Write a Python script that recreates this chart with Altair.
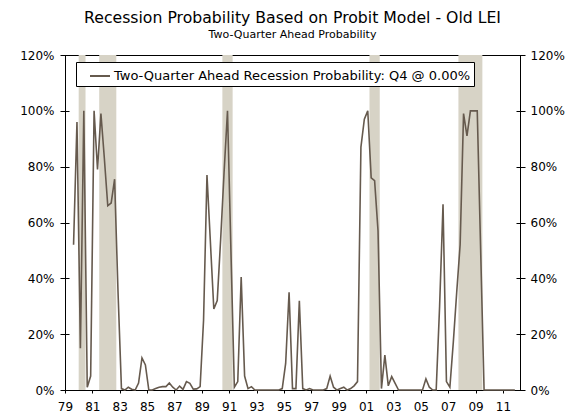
import altair as alt
import pandas as pd

# ---- data (quarterly, starting 1979 Q3) ----
start_year = 1979
start_quarter = 3
prob = [
    52, 96,                      # 1979 Q3-Q4
    15, 100, 1, 5,               # 1980
    100, 79, 99, 83,             # 1981
    66, 67, 75.5, 35,            # 1982
    0.5, 0, 1, 0.3,              # 1983
    0, 2.5, 11.5, 9,             # 1984
    0, 0, 0.5, 1,                # 1985
    1.2, 1.2, 2.5, 1,            # 1986
    0, 1.4, 0.2, 3,              # 1987
    2.4, 0.3, 0.4, 1.2,          # 1988
    25, 77, 53, 29,              # 1989
    32, 54, 78, 100,             # 1990
    50, 1, 3, 40.5,              # 1991
    5, 0.5, 1.2, 0,              # 1992
    0, 0, 0, 0,                  # 1993
    0, 0, 0, 0.5,                # 1994
    9.5, 35, 0.5, 0.5,           # 1995
    32, 0.5, 0, 0.5,             # 1996
    0, 0, 0, 0,                  # 1997
    0.5, 5, 1, 0,                # 1998
    0.5, 1, 0, 0.5,              # 1999
    1.5, 3, 87, 97,              # 2000
    100, 76, 75, 57,             # 2001
    0.5, 12.5, 1.5, 4.8,         # 2002
    2.4, 0, 0, 0,                # 2003
    0, 0, 0, 0,                  # 2004
    0, 4, 1, 0,                  # 2005
    0, 30, 66.5, 3,              # 2006
    1, 17, 35, 52,               # 2007
    99, 91, 100, 100,            # 2008
    100, 50, 0, 0,               # 2009
    0, 0, 0, 0,                  # 2010
    0, 0, 0, 0,                  # 2011
]
rec_start = [1980.0, 1981.5, 1990.5, 2001.25, 2007.75]
rec_end = [1980.5, 1982.75, 1991.25, 2002.0, 2009.5]
x_ticks = list(range(1979, 2012, 2))
y_ticks = [0, 20, 40, 60, 80, 100, 120]
series_name = "Two-Quarter Ahead Recession Probability: Q4 @ 0.00%"

# quarter mid-points as positions on the year axis
t = [start_year + (start_quarter - 1) / 4 + 0.125 + 0.25 * i for i in range(len(prob))]
df = pd.DataFrame({"t": t, "p": prob, "series": series_name})
bands = pd.DataFrame({"s": rec_start, "e": rec_end})

FONT = "DejaVu Sans"
LINE = "#665a4e"
BAND = "#d7d3c6"
xdom = [1979, 2012.25]
ydom = [0, 120]

xaxis = alt.Axis(values=x_ticks, labelExpr="substring(toString(datum.value), 2, 4)",
                 title=None, grid=False, domain=False, tickSize=3, tickColor="black",
                 labelFlush=False, labelPadding=8, labelFontSize=12, labelFont=FONT,
                 labelColor="black")

band_layer = alt.Chart(bands).mark_rect(color=BAND).encode(
    x=alt.X("s:Q", scale=alt.Scale(domain=xdom, nice=False, zero=False), axis=xaxis),
    x2="e:Q",
    y=alt.Y(datum=0, type="quantitative", scale=alt.Scale(domain=ydom, nice=False),
            axis=alt.Axis(orient="right", values=y_ticks, labelExpr="datum.value + '%'",
                          title=None, grid=False, domain=False, tickSize=9, offset=-4,
                          tickColor="black", labelPadding=5, labelFontSize=12,
                          labelFont=FONT, labelColor="black")),
    y2=alt.Y2(datum=120),
)

line_layer = alt.Chart(df).mark_line(strokeWidth=1.6).encode(
    x=alt.X("t:Q", scale=alt.Scale(domain=xdom, nice=False, zero=False), axis=xaxis),
    y=alt.Y("p:Q", scale=alt.Scale(domain=ydom, nice=False),
            axis=alt.Axis(orient="left", values=y_ticks, labelExpr="datum.value + '%'",
                          title=None, grid=False, domain=False, tickSize=9, offset=-4,
                          tickColor="black", labelPadding=6, labelFontSize=12,
                          labelFont=FONT, labelColor="black")),
    color=alt.Color("series:N", scale=alt.Scale(range=[LINE]),
                    legend=alt.Legend(title=None, orient="none", legendX=11, legendY=7,
                                      padding=3, symbolOffset=10, symbolType="stroke",
                                      symbolSize=400, symbolStrokeWidth=2,
                                      labelFontSize=13, labelFont=FONT, labelColor="black",
                                      labelOffset=3, labelLimit=600,
                                      strokeColor="black", fillColor="white",
                                      cornerRadius=0)),
)

chart = alt.layer(band_layer, line_layer).resolve_scale(y="independent").properties(
    width=455, height=335,
    autosize=alt.AutoSizeParams(type="none"),
    padding={"left": 57, "top": 47, "right": 53, "bottom": 28},
    title=alt.TitleParams(text="Recession Probability Based on Probit Model - Old LEI",
                          subtitle="Two-Quarter Ahead Probability",
                          font=FONT, fontSize=15.7, fontWeight="normal", color="black",
                          subtitleFont=FONT, subtitleFontSize=11, subtitleColor="black",
                          subtitlePadding=2, anchor="middle", offset=8),
).configure_view(stroke="black", strokeWidth=1)

chart.save("out.html", embed_options={"renderer": "svg", "actions": False})
